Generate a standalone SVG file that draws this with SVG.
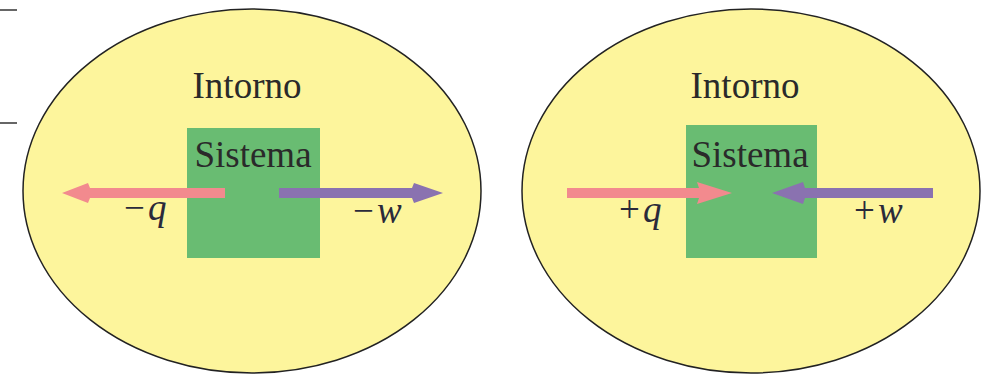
<svg xmlns="http://www.w3.org/2000/svg" width="994" height="374" viewBox="0 0 994 374">
<style>
.env{fill:#fdf59c;stroke:#222;stroke-width:1.5}
.sys{fill:#69bc72}
.lbl{font-family:"Liberation Serif",serif;font-size:37px;fill:#2a2a2a;text-anchor:middle}
.var{font-family:"Liberation Serif",serif;font-size:37px;fill:#2a2a3a}
.heat{fill:#f28a8e}
.work{fill:#8a72b0}
</style>
<rect width="994" height="374" fill="#ffffff"/>
<g id="marks" stroke="#333" stroke-width="1.5">
<line x1="0" y1="10" x2="17" y2="10"/>
<line x1="0" y1="123" x2="17" y2="123"/>
</g>
<g id="intorno-left">
<ellipse class="env" cx="252" cy="191" rx="229" ry="182"/>
<text class="lbl" x="247" y="98">Intorno</text>
</g>
<g id="sistema-left">
<rect class="sys" x="187" y="128" width="133" height="130"/>
<text class="lbl" x="253" y="167">Sistema</text>
</g>
<g id="intorno-right">
<ellipse class="env" cx="751" cy="191" rx="229" ry="182"/>
<text class="lbl" x="745" y="98">Intorno</text>
</g>
<g id="sistema-right">
<rect class="sys" x="686" y="125" width="131" height="133"/>
<text class="lbl" x="750" y="167">Sistema</text>
</g>
<g id="connectors">
<polygon class="heat" points="225,188 90,188 88,183 62,193 88,203 90,198 225,198"/>
<polygon class="work" points="279,188 412,188 414,183 443,193 414,203 412,198 279,198"/>
<polygon class="heat" points="567,188 699,188 697,182 732,193 697,204 699,198 567,198"/>
<polygon class="work" points="933,188 805,188 803,182 772,193 803,204 805,198 933,198"/>
<text class="var" x="124" y="220">−<tspan dx="3" font-style="italic">q</tspan></text>
<text class="var" x="353" y="223">−<tspan dx="3" font-style="italic">w</tspan></text>
<text class="var" x="619" y="222">+<tspan dx="3" font-style="italic">q</tspan></text>
<text class="var" x="854" y="223">+<tspan dx="3" font-style="italic">w</tspan></text>
</g>
</svg>
